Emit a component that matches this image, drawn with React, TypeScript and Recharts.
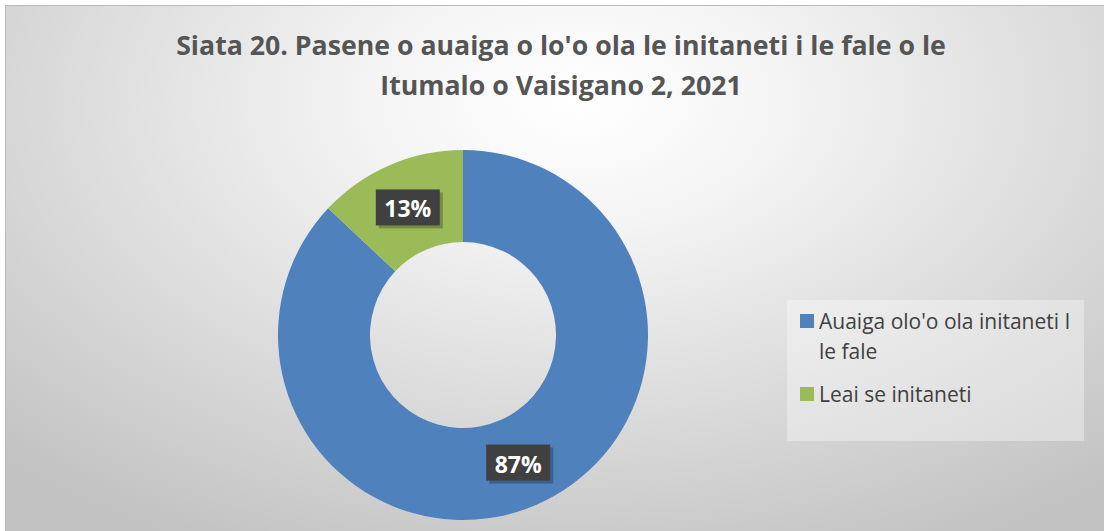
import { PieChart, Pie, Cell, Legend } from 'recharts'

const categories = ["Auaiga olo'o ola initaneti I le fale", 'Leai se initaneti']
const values = [87, 13]
const colors = ['#4f81bd', '#9bbb59']

const data = categories.map((name, i) => ({ name, value: values[i] }))

const RADIAN = Math.PI / 180

function renderLabel(props: any) {
  const { cx, cy, midAngle, innerRadius, outerRadius, value } = props
  const r = (innerRadius + outerRadius) / 2
  const x = cx + r * Math.cos(-midAngle * RADIAN)
  const y = cy + r * Math.sin(-midAngle * RADIAN)
  return (
    <g>
      <rect x={x - 29} y={y - 15} width={64} height={36} fill="#000" opacity={0.25} />
      <rect x={x - 32} y={y - 18} width={64} height={36} fill="#404040" />
      <text x={x} y={y + 1} fill="#fff" fontSize={23} fontWeight="bold" textAnchor="middle" dominantBaseline="central" fontFamily="'Open Sans', sans-serif">
        {value}%
      </text>
    </g>
  )
}

function renderLegend(props: any) {
  const { payload } = props
  return (
    <div style={{ width: 297, height: 141, background: 'rgba(255,255,255,0.35)', boxSizing: 'border-box', padding: '6px 8px 0 13px', fontFamily: "'Open Sans', sans-serif", fontSize: 21, color: '#404040', lineHeight: '30px' }}>
      {payload.map((p: any, i: number) => (
        <div key={i} style={{ display: 'flex', alignItems: 'flex-start', marginBottom: 13 }}>
          <span style={{ width: 14, height: 14, background: p.color, marginTop: 8, marginRight: 5, flexShrink: 0 }} />
          <span style={{ width: 262 }}>{p.value}</span>
        </div>
      ))}
    </div>
  )
}

export default function App() {
  return (
    <div style={{ position: 'absolute', left: 0, top: 0, width: 1104, height: 531, background: '#fff' }}>
      <div style={{ position: 'absolute', left: 5, top: 5, width: 1099, height: 526, borderTop: '1px solid #bbb', borderLeft: '1px solid #bbb', boxSizing: 'border-box', background: 'radial-gradient(ellipse 75% 95% at 52% 18%, #ffffff 0%, #f4f4f4 25%, #c2c2c2 100%)' }}>
        <div style={{ position: 'absolute', left: 0, top: 19, width: 1110, textAlign: 'center', fontFamily: "'Open Sans', sans-serif", fontWeight: 'bold', fontSize: 26.7, color: '#555555', lineHeight: '40px' }}>
          Siata 20. Pasene o auaiga o lo'o ola le initaneti i le fale o le<br />Itumalo o Vaisigano 2, 2021
        </div>
        <PieChart width={1099} height={526} style={{ position: 'absolute', left: 0, top: 0 }}>
          <Pie
            data={data}
            dataKey="value"
            nameKey="name"
            cx={452}
            cy={324}
            innerRadius={93}
            outerRadius={185}
            startAngle={90}
            endAngle={-270}
            stroke="none"
            label={renderLabel}
            labelLine={false}
            isAnimationActive={false}
          >
            {data.map((d, i) => (
              <Cell key={d.name} fill={colors[i]} />
            ))}
          </Pie>
          <Legend
            content={renderLegend}
            layout="vertical"
            wrapperStyle={{ position: 'absolute', left: 781, top: 294, width: 297, height: 141 }}
          />
        </PieChart>
      </div>
    </div>
  )
}
